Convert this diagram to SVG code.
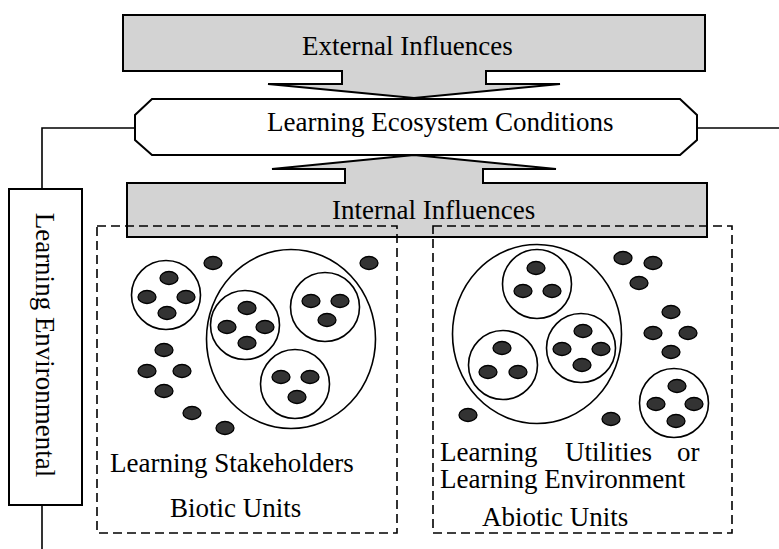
<svg xmlns="http://www.w3.org/2000/svg" width="779" height="549" viewBox="0 0 779 549">
<style>
text{font-family:"Liberation Serif","Times New Roman",serif;font-size:27px;fill:#000}
.infl{fill:#d3d3d3;stroke:#000;stroke-width:2}
.oct{fill:#fff;stroke:#000;stroke-width:2}
.line{fill:none;stroke:#000;stroke-width:1.6}
.dash{fill:none;stroke:#000;stroke-width:1.6;stroke-dasharray:9 5}
.circ{fill:#fff;stroke:#000;stroke-width:1.6}
.dot{fill:#333;stroke:#000;stroke-width:1.3}
</style>
<defs>
<ellipse id="d" class="dot" cx="0" cy="0" rx="9" ry="6.5"/>
</defs>
<g id="connectors">
<polyline class="line" points="135,128 42,128 42,189"/>
<line class="line" x1="42" y1="505" x2="42" y2="549"/>
<line class="line" x1="697" y1="128" x2="779" y2="128"/>
</g>
<g id="external">
<path class="infl" d="M123,15 H705 V71 H486 V84 H560 L414,98 L268,84 H342 V71 H123 Z"/>
<text x="302" y="55">External Influences</text>
</g>
<g id="conditions">
<polygon class="oct" points="152,99 680,99 697,115 697,140 680,155 152,155 135,140 135,115"/>
<text x="267" y="131">Learning Ecosystem Conditions</text>
</g>
<g id="internal">
<path class="infl" d="M127,237 V183 H345 V169 H272 L414,155 L556,169 H483 V183 H707 V237 Z"/>
<text x="332" y="219">Internal Influences</text>
</g>
<g id="environmental">
<rect class="oct" x="9" y="189" width="73" height="316"/>
<text transform="translate(36,345) rotate(90)" text-anchor="middle">Learning Environmental</text>
</g>
<g id="biotic">
<rect class="dash" x="97" y="226" width="300" height="307"/>
<circle class="circ" cx="166" cy="295" r="34.5"/>
<use href="#d" x="169" y="278"/><use href="#d" x="147" y="297"/><use href="#d" x="186" y="297"/><use href="#d" x="167" y="313"/>
<ellipse class="circ" cx="291" cy="339" rx="84.5" ry="89.5"/>
<circle class="circ" cx="245" cy="325" r="34.5"/>
<use href="#d" x="247" y="308"/><use href="#d" x="227" y="327"/><use href="#d" x="265" y="327"/><use href="#d" x="247" y="343"/>
<circle class="circ" cx="325" cy="307" r="34.5"/>
<use href="#d" x="311" y="301"/><use href="#d" x="340" y="301"/><use href="#d" x="327" y="320"/>
<circle class="circ" cx="295" cy="384" r="34.5"/>
<use href="#d" x="281" y="377"/><use href="#d" x="310" y="377"/><use href="#d" x="297" y="397"/>
<use href="#d" x="213" y="263"/><use href="#d" x="369" y="263"/>
<use href="#d" x="164" y="350"/><use href="#d" x="147" y="371"/><use href="#d" x="182" y="371"/><use href="#d" x="164" y="391"/>
<use href="#d" x="192" y="413"/><use href="#d" x="225" y="428"/>
<text x="110" y="472">Learning Stakeholders</text>
<text x="170" y="517">Biotic Units</text>
</g>
<g id="abiotic">
<rect class="dash" x="433" y="226" width="299" height="307"/>
<ellipse class="circ" cx="537" cy="334" rx="84.5" ry="89.5"/>
<circle class="circ" cx="537" cy="284" r="34.5"/>
<use href="#d" x="536" y="268"/><use href="#d" x="523" y="291"/><use href="#d" x="552" y="291"/>
<circle class="circ" cx="581" cy="348" r="34.5"/>
<use href="#d" x="583" y="331"/><use href="#d" x="562" y="349"/><use href="#d" x="601" y="349"/><use href="#d" x="582" y="365"/>
<circle class="circ" cx="503" cy="365" r="34.5"/>
<use href="#d" x="502" y="348"/><use href="#d" x="488" y="372"/><use href="#d" x="518" y="372"/>
<circle class="circ" cx="674" cy="403" r="34.5"/>
<use href="#d" x="677" y="386"/><use href="#d" x="656" y="404"/><use href="#d" x="694" y="404"/><use href="#d" x="676" y="421"/>
<use href="#d" x="623" y="258"/><use href="#d" x="653" y="263"/><use href="#d" x="639" y="283"/>
<use href="#d" x="671" y="312"/><use href="#d" x="653" y="333"/><use href="#d" x="688" y="333"/><use href="#d" x="671" y="352"/>
<use href="#d" x="468" y="415"/><use href="#d" x="611" y="419"/>
<text x="440" y="461">Learning</text>
<text x="565" y="461">Utilities</text>
<text x="677" y="461">or</text>
<text x="440" y="488">Learning Environment</text>
<text x="482" y="526">Abiotic Units</text>
</g>
</svg>
